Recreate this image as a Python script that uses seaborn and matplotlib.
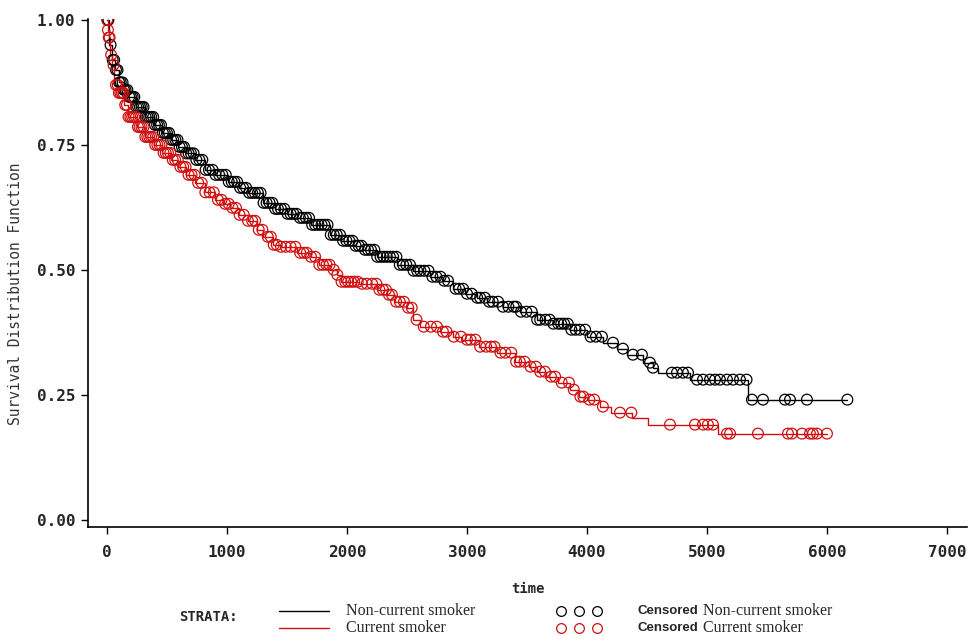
import numpy as np
import pandas as pd
import seaborn as sns
import matplotlib
matplotlib.use("Agg")
import matplotlib.pyplot as plt
from matplotlib.lines import Line2D

# Kaplan-Meier step points (time, survival)
noncur_time = [0, 20, 40, 67, 100, 140, 175, 240, 317, 390, 458, 530, 592, 660, 733, 820,
               900, 1008, 1100, 1175, 1300, 1400, 1500, 1583, 1700, 1858, 1950, 2050, 2133,
               2250, 2417, 2550, 2692, 2800, 2883, 2980, 3080, 3167, 3300, 3442, 3583, 3720,
               3858, 4000, 4133, 4250, 4333, 4467, 4550, 4592, 4858, 5342, 6170]
noncur_surv = [1.0, 0.95, 0.92, 0.90, 0.875, 0.86, 0.846, 0.826, 0.806, 0.79, 0.774, 0.76,
               0.746, 0.733, 0.72, 0.70, 0.69, 0.676, 0.664, 0.654, 0.634, 0.622, 0.612,
               0.604, 0.59, 0.57, 0.558, 0.548, 0.54, 0.526, 0.51, 0.498, 0.486, 0.478,
               0.462, 0.452, 0.444, 0.436, 0.426, 0.416, 0.40, 0.392, 0.38, 0.366, 0.354,
               0.342, 0.33, 0.314, 0.304, 0.294, 0.28, 0.24, 0.24]

cur_time = [0, 8, 15, 25, 40, 60, 92, 140, 175, 250, 317, 390, 458, 530, 592, 660, 733,
            820, 900, 975, 1025, 1100, 1175, 1250, 1300, 1380, 1450, 1583, 1700, 1770,
            1858, 1920, 1950, 2100, 2250, 2330, 2400, 2500, 2550, 2608, 2775, 2883, 2960,
            3100, 3250, 3400, 3520, 3583, 3660, 3760, 3860, 3930, 4000, 4110, 4200, 4375,
            4508, 5090, 6000]
cur_surv = [1.0, 0.98, 0.965, 0.93, 0.91, 0.87, 0.854, 0.83, 0.806, 0.786, 0.766, 0.75,
            0.734, 0.72, 0.706, 0.69, 0.674, 0.655, 0.64, 0.632, 0.624, 0.61, 0.598, 0.58,
            0.566, 0.55, 0.546, 0.534, 0.526, 0.51, 0.50, 0.49, 0.476, 0.472, 0.46, 0.45,
            0.436, 0.424, 0.40, 0.386, 0.376, 0.366, 0.36, 0.346, 0.334, 0.316, 0.306,
            0.296, 0.286, 0.274, 0.26, 0.246, 0.24, 0.226, 0.214, 0.204, 0.19, 0.172, 0.172]

# censored observation times
noncur_cens = [5, 12, 30, 48, 60, 75, 88, 102, 115, 130, 142, 155, 170, 186, 200, 214, 228,
               245, 260, 275, 290, 305, 322, 338, 352, 368, 385, 400, 418, 433, 450, 466,
               482, 500, 517, 535, 552, 570, 588, 605, 625, 642, 660, 680, 700, 722, 745,
               770, 795, 822, 850, 880, 905, 935, 962, 990, 1015, 1040, 1062, 1085, 1110,
               1135, 1160, 1185, 1210, 1232, 1258, 1280, 1305, 1330, 1355, 1378, 1402, 1425,
               1450, 1478, 1505, 1530, 1555, 1580, 1608, 1632, 1658, 1684, 1710, 1735, 1762,
               1788, 1812, 1838, 1865, 1890, 1915, 1942, 1968, 1995, 2020, 2046, 2072, 2098,
               2122, 2150, 2175, 2200, 2228, 2252, 2280, 2305, 2332, 2358, 2385, 2412, 2440,
               2468, 2495, 2525, 2555, 2585, 2612, 2645, 2680, 2712, 2745, 2780, 2810, 2842,
               2905, 2935, 2968, 3000, 3040, 3085, 3110, 3150, 3185, 3215, 3260, 3300, 3345,
               3390, 3410, 3450, 3495, 3540, 3585, 3610, 3655, 3690, 3720, 3760, 3785, 3810,
               3840, 3870, 3905, 3940, 3985, 4030, 4075, 4125, 4217, 4300, 4383, 4458, 4525,
               4550, 4708, 4750, 4800, 4842, 4917, 4967, 5025, 5067, 5108, 5167, 5217, 5275,
               5330, 5375, 5467, 5650, 5692, 5833, 6170]
cur_cens = [3, 8, 15, 22, 35, 55, 75, 90, 100, 112, 125, 138, 152, 166, 180, 195, 210, 226,
            242, 258, 272, 288, 305, 320, 336, 352, 368, 385, 402, 420, 438, 455, 472, 490,
            508, 528, 548, 568, 590, 612, 635, 655, 680, 705, 730, 760, 790, 820, 855, 890,
            925, 955, 985, 1015, 1045, 1075, 1105, 1140, 1175, 1210, 1235, 1265, 1295, 1340,
            1365, 1390, 1415, 1450, 1490, 1530, 1570, 1610, 1640, 1665, 1700, 1735, 1770,
            1800, 1830, 1855, 1890, 1920, 1955, 1985, 2010, 2035, 2060, 2090, 2125, 2165,
            2210, 2245, 2270, 2300, 2325, 2350, 2375, 2410, 2440, 2475, 2510, 2540, 2580,
            2640, 2700, 2750, 2800, 2830, 2890, 2950, 3000, 3030, 3070, 3110, 3160, 3200,
            3230, 3280, 3320, 3370, 3410, 3440, 3480, 3530, 3575, 3610, 3650, 3700, 3735,
            3790, 3850, 3890, 3945, 3970, 4020, 4060, 4133, 4275, 4370, 4692, 4900, 4967,
            5008, 5050, 5167, 5192, 5425, 5675, 5708, 5792, 5858, 5883, 5917, 6000]

x_ticks = [0, 1000, 2000, 3000, 4000, 5000, 6000, 7000]
y_ticks = [0.0, 0.25, 0.5, 0.75, 1.0]

BLACK = "#000000"
RED = "#d01010"


def km_at(times, surv, t):
    idx = np.searchsorted(times, t, side="right") - 1
    return np.asarray(surv)[idx]


def build_frames():
    steps = pd.concat([
        pd.DataFrame({"time": noncur_time, "surv": noncur_surv, "group": "Non-current smoker"}),
        pd.DataFrame({"time": cur_time, "surv": cur_surv, "group": "Current smoker"}),
    ])
    cens = pd.concat([
        pd.DataFrame({"time": noncur_cens,
                      "surv": km_at(noncur_time, noncur_surv, noncur_cens),
                      "group": "Non-current smoker"}),
        pd.DataFrame({"time": cur_cens,
                      "surv": km_at(cur_time, cur_surv, cur_cens),
                      "group": "Current smoker"}),
    ])
    return steps, cens


sns.set_style("white")
plt.rcParams["font.family"] = ["DejaVu Sans Mono", "DejaVu Sans"]

steps, cens = build_frames()
palette = {"Non-current smoker": BLACK, "Current smoker": RED}

fig = plt.figure(figsize=(9.68, 6.42), dpi=100)
ax = fig.add_axes([88 / 968, 1 - 527 / 642, 879 / 968, 508 / 642])

for name in ["Non-current smoker", "Current smoker"]:
    sub = steps[steps.group == name]
    sns.lineplot(data=sub, x="time", y="surv", color=palette[name], estimator=None,
                 drawstyle="steps-post", linewidth=1.0, ax=ax, legend=False)
    csub = cens[cens.group == name]
    ax.scatter(csub.time, csub.surv, s=60, facecolors="none", edgecolors=palette[name],
               linewidths=0.9, zorder=3)

ax.set_xlim(-158, 7167)
ax.set_ylim(-0.015, 1.002)
ax.set_xticks(x_ticks)
ax.set_yticks(y_ticks)
ax.set_xticklabels([str(v) for v in x_ticks], fontweight="bold", fontsize=11.5)
ax.set_yticklabels(["%.2f" % v for v in y_ticks], fontweight="bold", fontsize=11.5)
ax.tick_params(axis="both", direction="out", length=5, width=1, color="black",
               bottom=True, left=True)
ax.tick_params(axis="x", pad=8)
ax.tick_params(axis="y", pad=4)
for side in ["top", "right"]:
    ax.spines[side].set_visible(False)
for side in ["left", "bottom"]:
    ax.spines[side].set_color("black")
    ax.spines[side].set_linewidth(1.2)

ax.set_xlabel("time", fontweight="bold", fontsize=10, labelpad=16)
ax.set_ylabel("Survival Distribution Function", fontsize=10.5, color="#333333")
ax.yaxis.set_label_coords(-0.074, 0.46)

# legend row at the bottom
def fx(x):
    return x / 968


def fy(y):
    return 1 - y / 642


fig.text(fx(179), fy(617), "STRATA:", fontweight="bold", fontsize=10, va="center")
for y, col, lab in [(611, BLACK, "Non-current smoker"), (628, RED, "Current smoker")]:
    fig.add_artist(Line2D([fx(279), fx(329)], [fy(y), fy(y)], color=col, linewidth=1.0,
                          transform=fig.transFigure))
    fig.text(fx(346), fy(y), lab, family="Liberation Serif", fontsize=11.5, va="center")
    fig.add_artist(Line2D([fx(561), fx(579), fx(597)], [fy(y)] * 3, linestyle="none",
                          marker="o", markersize=7, markerfacecolor="none",
                          markeredgecolor=col, markeredgewidth=0.9,
                          transform=fig.transFigure))
    fig.text(fx(637), fy(y), "Censored", family="Liberation Sans", fontweight="bold",
             fontsize=9.5, va="center")
    fig.text(fx(703), fy(y), lab, family="Liberation Serif", fontsize=11.5, va="center")

fig.savefig("out.png", dpi=100)
